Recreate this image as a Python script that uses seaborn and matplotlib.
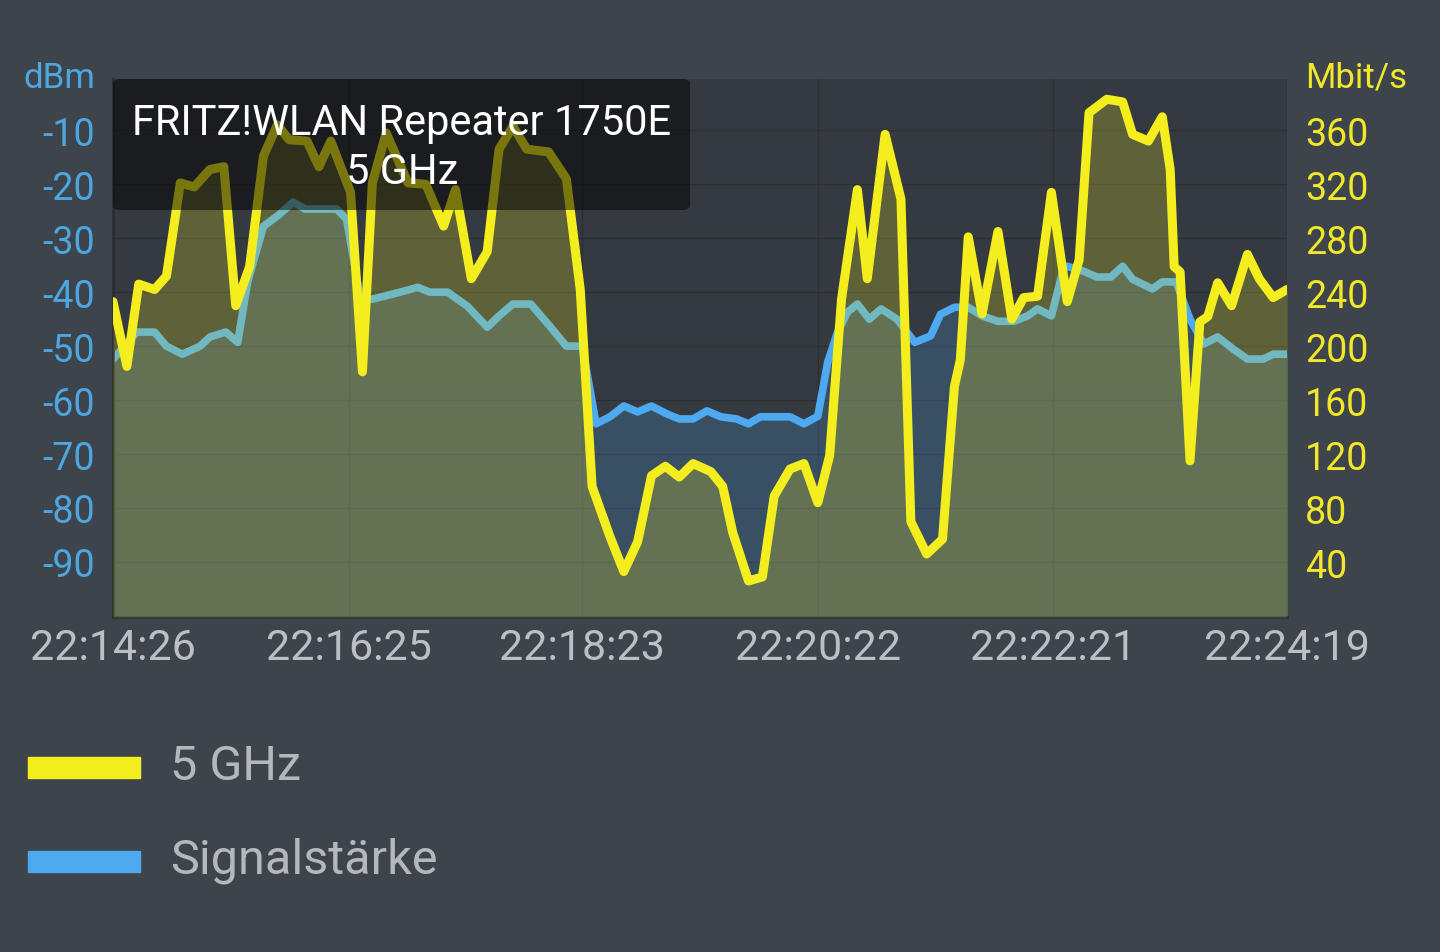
import matplotlib
matplotlib.use('Agg')
import matplotlib.pyplot as plt
from matplotlib.patches import FancyBboxPatch, Rectangle
import seaborn as sns
import pandas as pd

# seconds after 22:14:26
rate_sec = [0, 7, 13, 21, 27, 34, 41, 49, 56, 62, 69, 76, 83, 89, 98, 104, 110, 120,
            126, 131, 138, 149, 158, 167, 173, 181, 189, 195, 202, 209, 220, 229, 236,
            242, 251, 258, 265, 272, 279, 286, 293, 302, 308, 313, 321, 328, 334, 342,
            349, 356, 362, 368, 376, 381, 390, 398, 403, 411, 419, 425, 428, 432, 439,
            447, 454, 460, 467, 474, 482, 488, 493, 502, 510, 515, 523, 530, 534, 536,
            539, 544, 549, 553, 558, 565, 573, 579, 586, 593]
rate_mbit = [233, 185, 246, 242, 252, 321, 318, 331, 333, 230, 259, 341, 364, 353, 352,
             333, 352, 314, 181, 321, 358, 321, 320, 289, 316, 250, 270, 346, 363, 346,
             344, 324, 242, 96, 59, 33, 55, 104, 111, 103, 113, 107, 96, 62, 26, 29, 89,
             109, 113, 84, 119, 235, 316, 250, 357, 309, 70, 46, 57, 170, 190, 281, 224,
             285, 220, 236, 237, 314, 233, 264, 373, 383, 381, 357, 352, 370, 331, 259,
             255, 115, 218, 222, 247, 230, 268, 250, 236, 242]

signal_sec = [0, 12, 21, 27, 35, 44, 49, 57, 63, 68, 76, 84, 91, 97, 113, 118, 125, 131,
              145, 154, 160, 169, 179, 189, 195, 202, 211, 219, 229, 237, 244, 251, 258,
              265, 272, 280, 286, 293, 300, 307, 315, 321, 327, 342, 349, 356, 361, 366,
              371, 376, 382, 388, 396, 405, 413, 418, 425, 432, 439, 447, 455, 462, 467,
              474, 480, 482, 490, 497, 504, 510, 515, 525, 530, 537, 544, 551, 558, 566,
              573, 581, 586, 593]
signal_dbm = [-52.4, -47.4, -47.4, -50, -51.5, -50, -48.3, -47.4, -49.3, -38.1, -27.8,
              -25.6, -23.3, -24.6, -24.6, -26.5, -41.3, -41.3, -40, -39.1, -40, -40,
              -42.6, -46.5, -44.4, -42.2, -42.2, -45.6, -50, -50, -64.4, -63.1, -61.1,
              -62.2, -61.1, -62.6, -63.5, -63.5, -62, -63.1, -63.5, -64.4, -63.1, -63.1,
              -64.4, -63, -53, -47.4, -43.7, -42.2, -45, -43.1, -45, -49.3, -48.1, -44.1,
              -42.8, -42.8, -44.4, -45.4, -45.4, -44.4, -43.1, -44.4, -35.7, -35.2, -36.1,
              -37.2, -37.2, -35.2, -37.6, -39.4, -38.1, -38.1, -45, -49.6, -48.3, -50.6,
              -52.4, -52.4, -51.5, -51.5]

time_ticks = [0, 119, 237, 356, 475, 593]
time_labels = ['22:14:26', '22:16:25', '22:18:23', '22:20:22', '22:22:21', '22:24:19']
dbm_ticks = [-10, -20, -30, -40, -50, -60, -70, -80, -90]
mbit_ticks = [360, 320, 280, 240, 200, 160, 120, 80, 40]

BG = '#3e444b'
PLOT_BG = '#353a41'
YELLOW = '#f5ee1e'
BLUE = '#4daaf0'

sns.set_style('dark')
plt.rcParams['font.family'] = ['Roboto', 'DejaVu Sans']
plt.rcParams['axes.unicode_minus'] = False

rate = pd.DataFrame({'sec': rate_sec, 'mbit': rate_mbit})
signal = pd.DataFrame({'sec': signal_sec, 'dbm': signal_dbm})

fig = plt.figure(figsize=(14.4, 9.53), dpi=100, facecolor=BG)
ax = fig.add_axes([113 / 1440, 335 / 953, 1174 / 1440, 538 / 953])
ax.set_facecolor(PLOT_BG)
ax2 = ax.twinx()

# signal strength (left axis) below
ax.fill_between(signal['sec'], signal['dbm'], -100.2, color=BLUE, alpha=0.2, lw=0)
sns.lineplot(data=signal, x='sec', y='dbm', ax=ax, color=BLUE, lw=5.5,
             solid_joinstyle='round', solid_capstyle='round')

# 5 GHz rate (right axis) above
ax2.fill_between(rate['sec'], rate['mbit'], -0.7, color=YELLOW, alpha=0.22, lw=0)
sns.lineplot(data=rate, x='sec', y='mbit', ax=ax2, color=YELLOW, lw=6.5,
             solid_joinstyle='round', solid_capstyle='round')

ax.set_xlim(0, 593)
ax.set_ylim(-100.2, -0.5)
ax2.set_ylim(-0.7, 398)

ax.set_xticks(time_ticks)
ax.set_xticklabels(time_labels)
ax.set_yticks(dbm_ticks)
ax2.set_yticks(mbit_ticks)
ax.set_xlabel('')
ax.set_ylabel('')
ax2.set_ylabel('')

ax.grid(True, color='#2b2f34', lw=1)
ax2.grid(False)
ax.tick_params(axis='x', length=0, pad=7, labelsize=31, labelcolor='#bcc0c4')
ax.tick_params(axis='y', length=0, pad=13, labelsize=27, labelcolor='#4da6e0')
ax2.tick_params(axis='y', length=0, pad=13, labelsize=27, labelcolor='#f0e828')
for a in (ax, ax2):
    for s in a.spines.values():
        s.set_visible(False)
for side in ('left', 'bottom'):
    ax.spines[side].set_visible(True)
    ax.spines[side].set_color('#2b2f34')
    ax.spines[side].set_linewidth(2)

fig.text(95 / 1440, 1 - 78 / 953, 'dBm', color='#4da6e0', fontsize=25,
         ha='right', va='center')
fig.text(1305 / 1440, 1 - 78 / 953, 'Mbit/s', color='#f0e828', fontsize=25,
         ha='left', va='center')

# tooltip box
box = FancyBboxPatch((113 / 1440, 1 - 211 / 953), 577 / 1440, 131 / 953,
                     boxstyle='round,pad=0,rounding_size=0.005', transform=fig.transFigure,
                     facecolor='black', alpha=0.5, edgecolor='none', zorder=10)
fig.patches.append(box)
fig.text(402 / 1440, 1 - 123 / 953, 'FRITZ!WLAN Repeater 1750E', color='white',
         fontsize=30, ha='center', va='center', zorder=11)
fig.text(402 / 1440, 1 - 172 / 953, '5 GHz', color='white',
         fontsize=30, ha='center', va='center', zorder=11)

# legend
for y_top, col, label, base in [(779, YELLOW, '5 GHz', 780),
                                (873, BLUE, 'Signalstärke', 873)]:
    fig.patches.append(Rectangle((28 / 1440, 1 - y_top / 953), 112 / 1440, 21 / 953,
                                 transform=fig.transFigure, color=col))
    fig.text(170 / 1440, 1 - base / 953, label, color='#b4b8bc', fontsize=35,
             ha='left', va='baseline')

fig.savefig('out.png', dpi=100, facecolor=BG)
